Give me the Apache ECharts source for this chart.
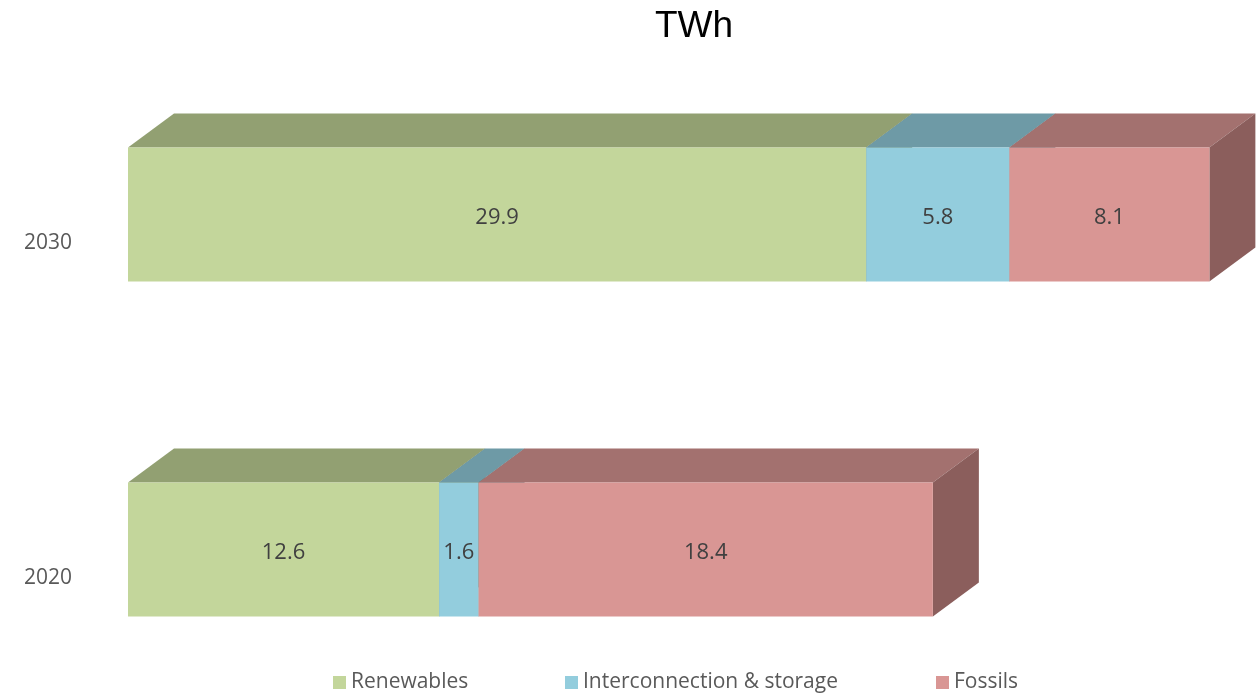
<!DOCTYPE html>
<html>
<head>
<meta charset="utf-8">
<title>TWh</title>
<script src="https://cdn.jsdelivr.net/npm/echarts@6/dist/echarts.min.js"></script>
<style>
  html, body { margin: 0; padding: 0; background: #ffffff; }
  #chart { width: 1256px; height: 695px; }
</style>
</head>
<body>
<div id="chart"></div>
<script>
// Years, bottom to top
const categories = ['2020', '2030'];
const seriesNames = ['Renewables', 'Interconnection & storage', 'Fossils'];
// Stacked segments per year (TWh)
const renewables = [12.6, 29.9];
const interconnection = [1.6, 5.8];
const fossils = [18.4, 8.1];

// Face shades: front, top (darker), side (darkest)
const shades = [
  { front: '#C3D69B', top: '#92A072', side: '#7D8A62' },
  { front: '#93CDDD', top: '#6E9AA6', side: '#5E848F' },
  { front: '#D99694', top: '#A3716F', side: '#8B5E5C' }
];

// Oblique projection of the box depth
const DEPTH_X = 46;
const DEPTH_Y = 34;
// Front faces sit a little above the category label line
const FRONT_SHIFT = -28.5;

function stackedData(values, below) {
  return categories.map(function (c, i) {
    let start = 0;
    below.forEach(function (arr) { start += arr[i]; });
    return [start, start + values[i], i, values[i]];
  });
}

function renderBox(params, api) {
  const c = api.value(2);
  const v = api.value(3);
  const p0 = api.coord([api.value(0), c]);
  const p1 = api.coord([api.value(1), c]);
  const h = api.size([0, 1])[1] * 0.4;
  const cy = p0[1] + FRONT_SHIFT;
  const yT = cy - h / 2;
  const yB = cy + h / 2;
  const x0 = p0[0];
  const x1 = p1[0];
  const pal = shades[params.seriesIndex];
  return {
    type: 'group',
    children: [
      {
        type: 'polygon',
        shape: { points: [[x0, yT], [x1, yT], [x1 + DEPTH_X, yT - DEPTH_Y], [x0 + DEPTH_X, yT - DEPTH_Y]] },
        style: { fill: pal.top }
      },
      {
        type: 'polygon',
        shape: { points: [[x1, yT], [x1 + DEPTH_X, yT - DEPTH_Y], [x1 + DEPTH_X, yB - DEPTH_Y], [x1, yB]] },
        style: { fill: pal.side }
      },
      {
        type: 'rect',
        shape: { x: x0, y: yT, width: x1 - x0, height: h },
        style: { fill: pal.front }
      },
      {
        type: 'text',
        style: {
          text: v.toFixed(1),
          x: (x0 + x1) / 2,
          y: cy + 3,
          align: 'center',
          verticalAlign: 'middle',
          fill: '#404040',
          font: '22px "Open Sans"'
        }
      }
    ]
  };
}

function boxSeries(idx, values, below) {
  return {
    type: 'custom',
    name: seriesNames[idx],
    renderItem: renderBox,
    itemStyle: { color: shades[idx].front },
    encode: { x: [0, 1], y: 2, tooltip: 3 },
    data: stackedData(values, below)
  };
}

function legendAt(name, left) {
  return {
    data: [name],
    left: left,
    top: 672,
    padding: 0,
    icon: 'rect',
    itemWidth: 13,
    itemHeight: 13,
    selectedMode: false,
    textStyle: { fontFamily: 'Open Sans', fontSize: 21, color: '#595959' }
  };
}

const chart = echarts.init(document.getElementById('chart'), null, { renderer: 'canvas' });
chart.setOption({
  animation: false,
  backgroundColor: '#ffffff',
  title: {
    text: 'TWh',
    left: 650,
    top: 3,
    textStyle: { fontFamily: 'Liberation Sans', fontSize: 37, fontWeight: 'normal', color: '#000000' }
  },
  legend: [
    legendAt(seriesNames[0], 333),
    legendAt(seriesNames[1], 565),
    legendAt(seriesNames[2], 936)
  ],
  grid: {
    left: 128,
    width: 1111,
    top: 243,
    bottom: 117,
    containLabel: false,
    outerBoundsMode: 'none'
  },
  xAxis: {
    type: 'value',
    min: 0,
    max: 45,
    show: false
  },
  yAxis: {
    type: 'category',
    data: categories,
    boundaryGap: false,
    axisLine: { show: false },
    axisTick: { show: false },
    splitLine: { show: false },
    axisLabel: {
      margin: 56,
      fontFamily: 'Open Sans',
      fontSize: 21,
      color: '#595959'
    }
  },
  series: [
    boxSeries(0, renewables, []),
    boxSeries(1, interconnection, [renewables]),
    boxSeries(2, fossils, [renewables, interconnection])
  ]
});
</script>
</body>
</html>
